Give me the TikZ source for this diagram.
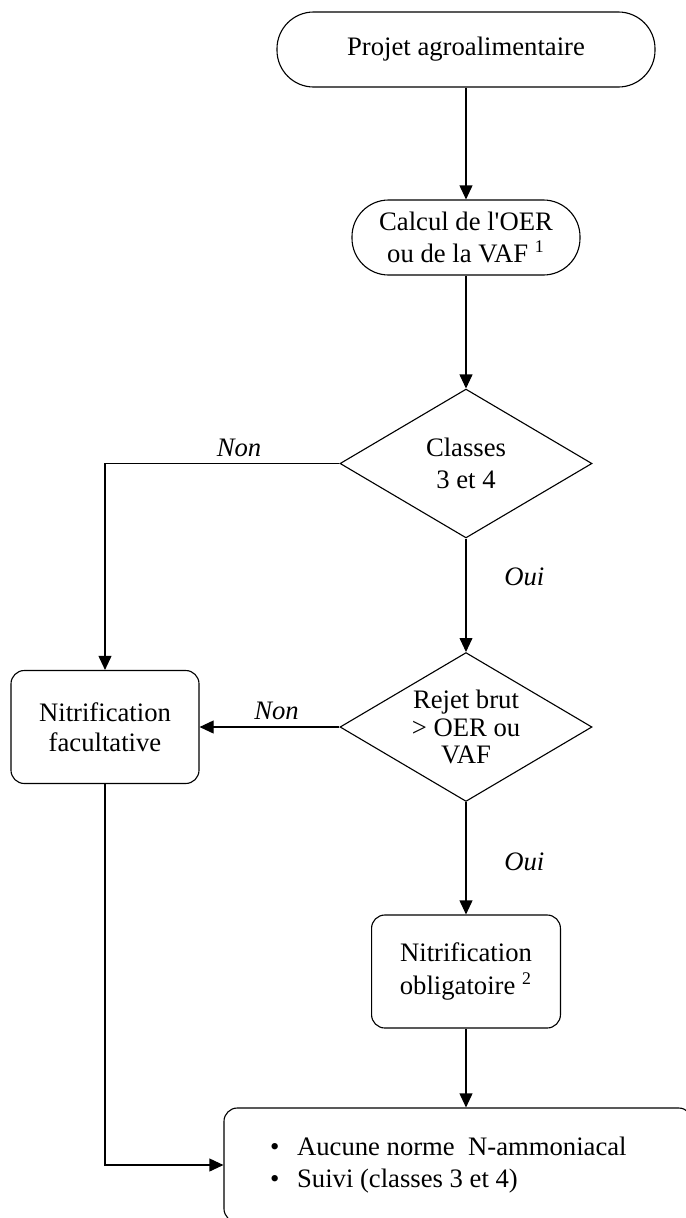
\documentclass[tikz,border=0pt,12pt]{standalone}
\usepackage{fontspec}
\setmainfont{Liberation Serif}
\usetikzlibrary{shapes.geometric,arrows.meta}

\tikzset{
    base/.style={draw=black, line width=0.5pt, align=center, inner sep=0pt},
    startbox/.style={base, rounded corners=16.5pt, minimum height=33.75pt},
    procbox/.style={base, rounded corners=6pt, minimum width=85pt, minimum height=50.85pt},
    decision/.style={base, diamond, minimum width=113.4pt, minimum height=67pt},
    flow/.style={line width=0.5pt, -{Triangle[length=6.3pt,width=5.8pt]}},
    answer/.style={font=\itshape},
}

\begin{document}
\begin{tikzpicture}[x=0.45pt, y=-0.45pt]
    \useasboundingbox (0,0) rectangle (686,1218);
    \clip (0,0) rectangle (686,1218);
    % boxes
    \node[startbox, minimum width=170.1pt] (projet) at (466,49.5) {Projet agroalimentaire};
    \node[startbox, minimum width=102.6pt] (calcul) at (466,237.5) {Calcul de l\textquotesingle OER\\ou de la VAF \textsuperscript{1}};
    \node[decision] (classes) at (466,463.5) {};
    \node[align=center] (classes-txt) at (classes) {Classes\\3 et 4};
    \node[decision] (rejet) at (466,727) {};
    \node[align=center] (rejet-txt) at (rejet) {Rejet brut\\[-2.3pt]> OER ou\\[-2.3pt]VAF};
    \node[procbox, minimum width=84.6pt] (fac) at (105,727) {Nitrification\\[-1pt]facultative};
    \node[procbox] (oblig) at (466,971.5) {Nitrification\\obligatoire \textsuperscript{2}};
    \node[procbox, minimum width=210.6pt, minimum height=51.3pt, text width=169.2pt, inner xsep=20.7pt, align=flush left] (suivi) at (458,1165)
        {\textbullet\hspace{8pt}Aucune norme~~N-ammoniacal\\\textbullet\hspace{8pt}Suivi (classes 3 et 4)};
    % arrows
    \draw[flow] (projet) -- (calcul);
    \draw[flow] (calcul) -- (classes);
    \draw[flow] (classes) -- node[answer, pos=0.34, right=13pt] (oui1) {Oui} (rejet);
    \draw[flow] (classes.west) -| node[answer, pos=0.214, above=-1pt] (non1) {Non} (fac.north);
    \draw[flow] (rejet) -- node[answer, pos=0.45, above=-1pt] (non2) {Non} (fac);
    \draw[flow] (rejet) -- node[answer, pos=0.53, right=13pt] (oui2) {Oui} (oblig);
    \draw[flow] (oblig.south) -- (oblig.south |- suivi.north);
    \draw[flow] (fac) |- (suivi);
\end{tikzpicture}
\end{document}
